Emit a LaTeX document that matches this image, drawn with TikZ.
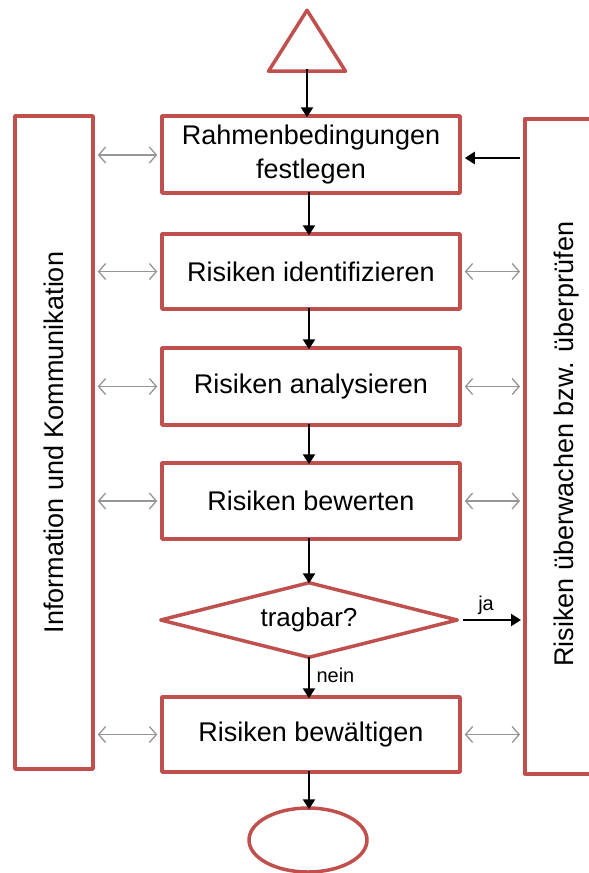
\documentclass[tikz,border=0pt]{standalone}
\usepackage{fontspec}
\setmainfont{Liberation Sans}
\usetikzlibrary{arrows.meta,shapes.geometric}
\definecolor{boxred}{RGB}{192,80,77}
\definecolor{linkgray}{RGB}{150,150,150}
\tikzset{
  x=1pt, y=-1pt,
  frame/.style={draw=boxred, line width=3.5pt, line join=round, fill=white, inner sep=0pt},
  stepbox/.style={frame, rectangle, minimum width=298pt, align=center,
    font=\fontsize{27}{34}\selectfont},
  flow/.style={draw=black, line width=2.4pt, -{Triangle[length=10pt,width=12pt]}},
  link/.style={draw=linkgray, line width=1.3pt, {Straight Barb[length=7pt,width=16pt]}-{Straight Barb[length=7pt,width=16pt]}},
  small/.style={font=\fontsize{20}{24}\selectfont}
}
\begin{document}
\begin{tikzpicture}
\useasboundingbox (0,0) rectangle (589,873);
\clip (0,0) rectangle (589,873);
% start and end symbols
\node[frame, isosceles triangle, shape border rotate=90, isosceles triangle stretches,
      minimum width=77pt, minimum height=61pt, anchor=south] (start) at (307,73) {};
\node[frame, ellipse, minimum width=118pt, minimum height=64pt] (stop) at (308,840) {};
% side boxes
\node[frame, minimum width=78pt, minimum height=653pt] (info) at (54,442.5) {};
\node[rotate=90, font=\fontsize{27}{32}\selectfont] at (info.center) {Information und Kommunikation};
\node[frame, minimum width=110pt, minimum height=655pt, anchor=north west] (watch) at (523,117) {};
\node[rotate=90, font=\fontsize{27}{32}\selectfont] at (567,444) {Risiken überwachen bzw. überprüfen};
% process steps
\node[stepbox, minimum height=77pt] (frameset) at (311,154.5) {Rahmenbedingungen\\festlegen};
\node[stepbox, minimum height=75pt] (ident) at (311,271.5) {Risiken identifizieren};
\node[stepbox, minimum height=77pt] (analyse) at (311,386.5) {Risiken analysieren};
\node[stepbox, minimum height=76pt] (assess) at (311,501) {Risiken bewerten};
\node[frame, diamond, aspect=3.92, minimum width=298pt, minimum height=76pt,
      font=\fontsize{26}{30}\selectfont] (ok) at (309,620) {tragbar?};
\node[stepbox, minimum height=75pt] (treat) at (311,734.5) {Risiken bewältigen};
% main flow, all on the column through the decision
\draw[flow] ([yshift=4pt]start.south) -- ([yshift=-3pt]start.south |- frameset.north);
\draw[flow] ([yshift=3pt]frameset.south -| ok) -- ([yshift=-3pt]ident.north -| ok);
\draw[flow] ([yshift=3pt]ident.south -| ok) -- ([yshift=-3pt]analyse.north -| ok);
\draw[flow] ([yshift=3pt]analyse.south -| ok) -- ([yshift=-3pt]assess.north -| ok);
\draw[flow] ([yshift=3pt]assess.south -| ok) -- ([yshift=-3pt]ok.north);
\draw[flow] ([yshift=3pt]ok.south) -- node[small, right=3pt, pos=0.45] {nein} ([yshift=-3pt]treat.north -| ok);
\draw[flow] ([yshift=3pt]treat.south -| ok) -- ([yshift=-3pt]stop.north -| ok);
\draw[flow] ([xshift=3pt]ok.east) -- node[small, above=1pt, pos=0.4] {ja} ([xshift=-2pt]watch.west |- ok);
\draw[flow] ([xshift=-3pt]watch.west |- 0,158) -- ([xshift=3pt]frameset.east |- 0,158);
% information links
\draw[link] ([xshift=3pt]info.east |- 0,155) -- ([xshift=-3pt]frameset.west |- 0,155);
\draw[link] ([xshift=3pt]info.east |- ident) -- ([xshift=-3pt]ident.west);
\draw[link] ([xshift=3pt]info.east |- analyse) -- ([xshift=-3pt]analyse.west);
\draw[link] ([xshift=3pt]info.east |- assess) -- ([xshift=-3pt]assess.west);
\draw[link] ([xshift=3pt]info.east |- treat) -- ([xshift=-3pt]treat.west);
% monitoring links
\draw[link] ([xshift=3pt]ident.east) -- ([xshift=-3pt]watch.west |- ident);
\draw[link] ([xshift=3pt]analyse.east) -- ([xshift=-3pt]watch.west |- analyse);
\draw[link] ([xshift=3pt]assess.east) -- ([xshift=-3pt]watch.west |- assess);
\draw[link] ([xshift=3pt]treat.east) -- ([xshift=-3pt]watch.west |- treat);
\end{tikzpicture}
\end{document}
